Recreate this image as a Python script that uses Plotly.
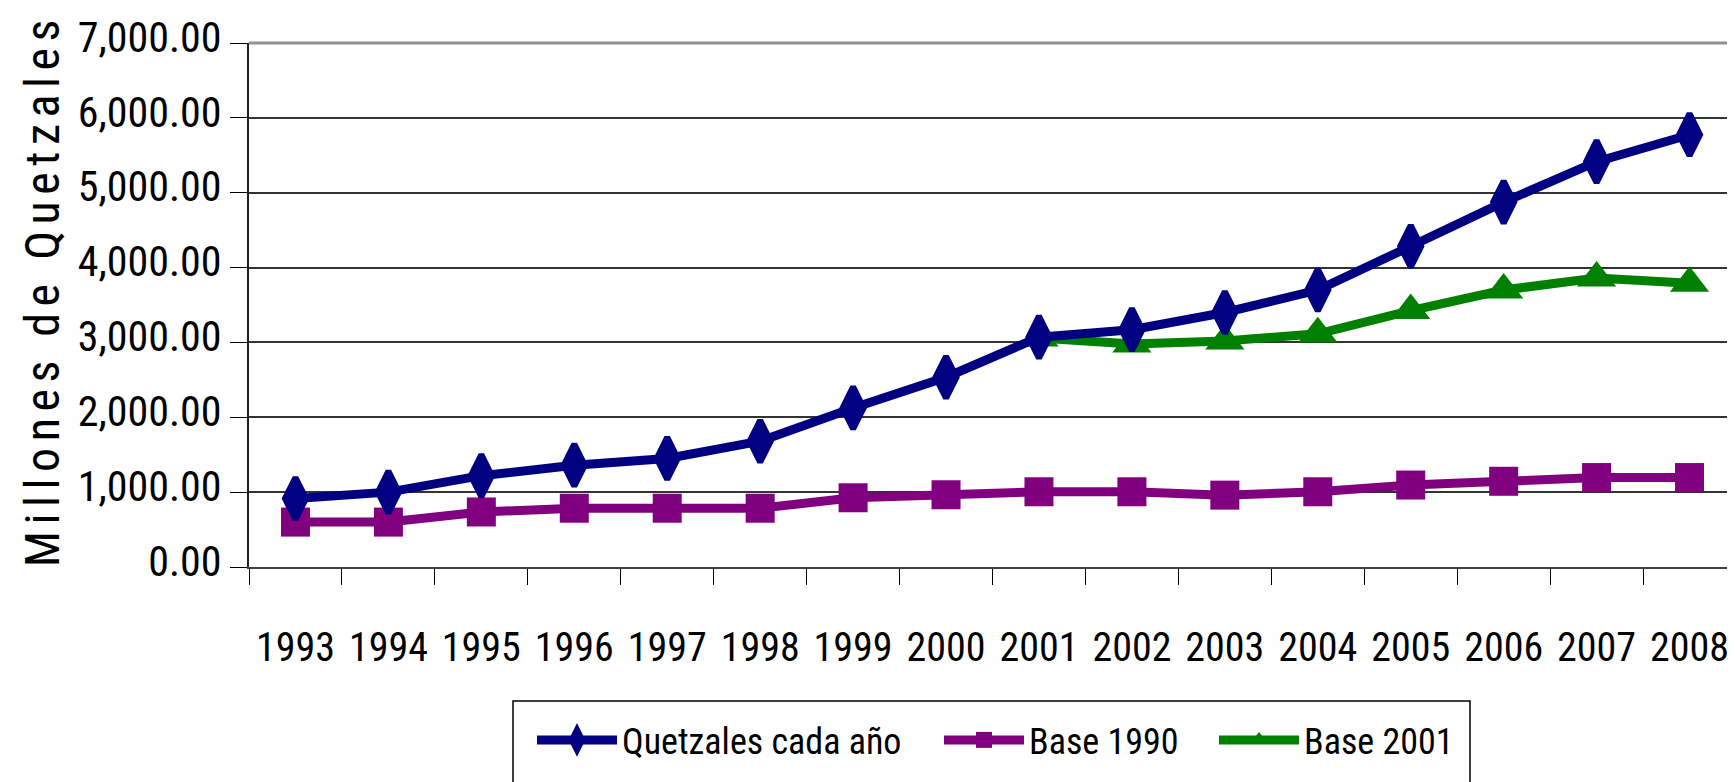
import plotly.graph_objects as go

years = ["1993", "1994", "1995", "1996", "1997", "1998", "1999", "2000",
         "2001", "2002", "2003", "2004", "2005", "2006", "2007", "2008"]
quetzales_cada_ano = [915, 1000, 1220, 1360, 1450, 1680, 2125, 2535,
                      3070, 3170, 3400, 3700, 4285, 4875, 5415, 5775]
base_1990 = [600, 600, 735, 785, 785, 785, 925, 965,
             1005, 1005, 960, 1005, 1095, 1145, 1195, 1195]
years_2001 = ["2001", "2002", "2003", "2004", "2005", "2006", "2007", "2008"]
base_2001 = [3060, 2980, 3020, 3115, 3425, 3700, 3860, 3790]

W, H = 1735, 782
L, R, T, B = 241, 7, 35, 223
PW, PH = W - L - R, H - T - B

def px(xp):
    return (xp - L) / PW

def py(yp):
    return (H - B - yp) / PH

FONT = "Roboto Condensed"
LEG_FONT = dict(family=FONT, size=36, color="black")

def leg(x_pixel):
    return dict(orientation="h", x=px(x_pixel), y=py(732), xanchor="left", yanchor="middle",
                font=LEG_FONT, bgcolor="rgba(0,0,0,0)", borderwidth=0, itemwidth=80)

fig = go.Figure()
fig.add_trace(go.Scatter(
    x=years, y=base_1990, name="Base 1990", mode="lines+markers",
    line=dict(color="#800080", width=9),
    marker=dict(symbol="square", size=29, color="#800080"),
    legend="legend2"))
fig.add_trace(go.Scatter(
    x=years_2001, y=base_2001, name="Base 2001", mode="lines+markers",
    line=dict(color="#008000", width=9),
    marker=dict(symbol="triangle-up", size=34, color="#008000"),
    legend="legend3"))
fig.add_trace(go.Scatter(
    x=years, y=quetzales_cada_ano, name="Quetzales cada año", mode="lines+markers",
    line=dict(color="#000080", width=9),
    marker=dict(symbol="diamond-tall", size=30, color="#000080",
                line=dict(color="#000080", width=6)),
    legend="legend"))

fig.update_layout(
    width=W, height=H,
    margin=dict(l=L, r=R, t=T, b=B, autoexpand=False),
    paper_bgcolor="white", plot_bgcolor="white",
    font=dict(family=FONT, color="black"),
    showlegend=True,
    legend=leg(524),
    legend2=leg(931),
    legend3=leg(1206),
    xaxis=dict(type="category", categoryorder="array", categoryarray=years,
               range=[-0.5, 15.5], tickson="boundaries",
               ticks="outside", ticklen=16, tickcolor="black", tickwidth=1,
               showgrid=False, showline=True, linecolor="#404040", linewidth=2,
               tickfont=dict(family=FONT, size=40, color="black"),
               ticklabelstandoff=44, zeroline=False, automargin=False),
    yaxis=dict(range=[0, 7000], dtick=1000, tickformat=",.2f",
               ticks="outside", ticklen=17, tickcolor="black", tickwidth=1,
               showgrid=True, gridcolor="#333333", gridwidth=1.5,
               showline=True, linecolor="#202020", linewidth=2,
               tickfont=dict(family=FONT, size=42, color="black"),
               ticklabelshift=-6, zeroline=False, automargin=False),
    annotations=[dict(text="Millones de Quetzales", xref="paper", yref="paper",
                      x=px(34), y=py(282), textangle=-90, showarrow=False,
                      xanchor="center", yanchor="middle",
                      font=dict(family=FONT, size=48, color="black"))],
    shapes=[
        dict(type="line", xref="paper", yref="paper", x0=0, x1=1, y0=1, y1=1,
             line=dict(color="#909090", width=3)),
        dict(type="line", xref="paper", yref="paper", x0=1, x1=1, y0=0, y1=1,
             line=dict(color="#909090", width=3)),
        dict(type="rect", xref="paper", yref="paper",
             x0=px(505), x1=px(1462), y0=py(693), y1=py(820),
             line=dict(color="black", width=1.5)),
    ],
)

post = """
var gd = document.getElementById('{plot_id}');
function ls(){
  gd.querySelectorAll('.annotation-text').forEach(function(t){ t.style.letterSpacing = '6.5px'; });
}
ls(); setTimeout(ls, 50); setTimeout(ls, 300);
if (gd.on) { gd.on('plotly_afterplot', ls); }
"""

fig.write_html("out.html", post_script=post)
